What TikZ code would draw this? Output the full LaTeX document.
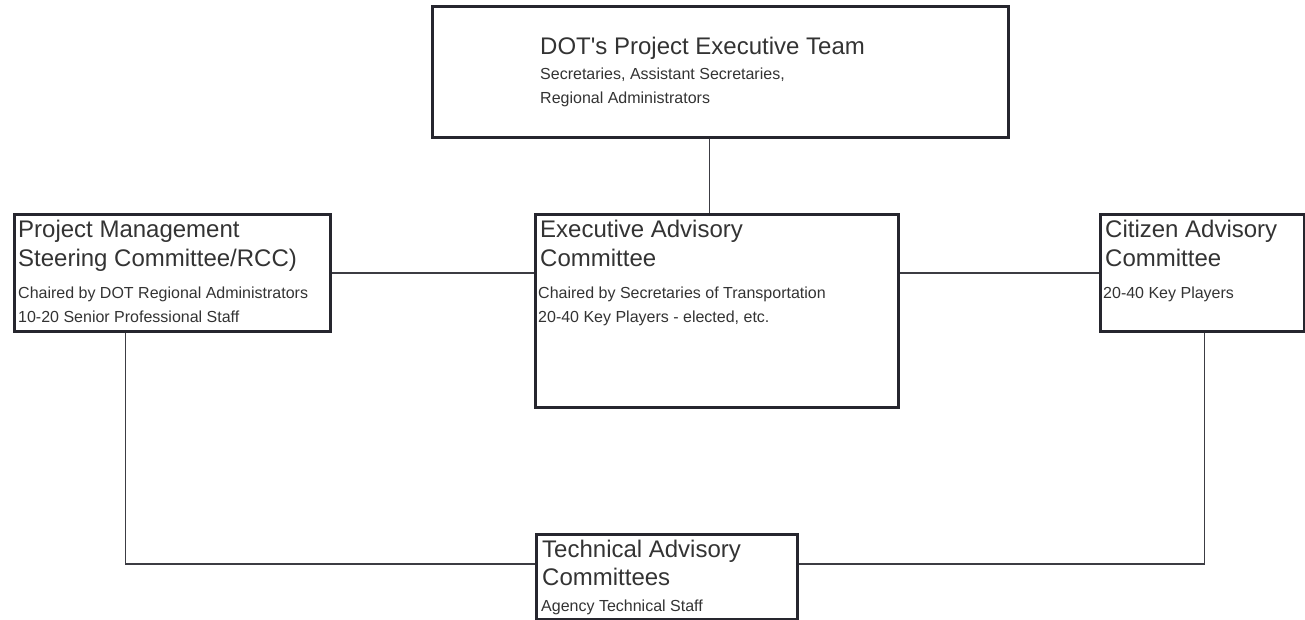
\documentclass[tikz,border=0pt]{standalone}
\usepackage{fontspec}
\setmainfont{Liberation Sans}
\definecolor{ink}{HTML}{26262E}
\definecolor{txt}{HTML}{333333}
\begin{document}
\begin{tikzpicture}[x=1pt,y=-1pt,
  box/.style={draw=ink, line width=3pt, anchor=north west, inner sep=0pt},
  link/.style={draw=ink!90, line width=1.6pt},
  big/.style={anchor=base west, inner sep=0pt, text=txt, font=\fontsize{24}{24}\selectfont},
  small/.style={anchor=base west, inner sep=0pt, text=txt, font=\fontsize{16}{16}\selectfont}]
\useasboundingbox (0,0) rectangle (1305,620);
% boxes
\node[box, minimum width=576pt, minimum height=131pt] (top) at (431,5) {};
\node[box, minimum width=316pt, minimum height=117pt] (pm) at (13,213) {};
\node[box, minimum width=363pt, minimum height=193pt] (eac) at (534,213) {};
\node[box, minimum width=204pt, minimum height=117pt] (cac) at (1099,213) {};
\node[box, minimum width=261pt, minimum height=85pt] (tac) at (535,533) {};
% connectors
\draw[link] ([xshift=-11pt]top.south) -- ([xshift=-11pt]top.south |- eac.north);
\draw[link] (pm.east) -- (pm.east -| eac.west);
\draw[link] (eac.east |- cac.west) -- (cac.west);
\draw[link] ([xshift=-47pt]pm.south) |- ([yshift=13pt]tac.west);
\draw[link] ([xshift=2pt]cac.south) |- ([yshift=13pt]tac.east);
% texts
\node[big] (t1) at (540,55) {DOT\textquotesingle s Project Executive Team};
\node[small] (t2) at (540,80) {Secretaries, Assistant Secretaries,};
\node[small] (t3) at (540,104) {Regional Administrators};
\node[big] (p1) at (18,237) {Project Management};
\node[big] (p2) at (18,266) {Steering Committee/RCC)};
\node[small] (p3) at (18,298) {Chaired by DOT Regional Administrators};
\node[small] (p4) at (18,322) {10-20 Senior Professional Staff};
\node[big] (e1) at (540,237) {Executive Advisory};
\node[big] (e2) at (540,266) {Committee};
\node[small] (e3) at (538,298) {Chaired by Secretaries of Transportation};
\node[small] (e4) at (538,322) {20-40 Key Players - elected, etc.};
\node[big] (c1) at (1105,237) {Citizen Advisory};
\node[big] (c2) at (1105,266) {Committee};
\node[small] (c3) at (1103,298) {20-40 Key Players};
\node[big] (a1) at (542,557) {Technical Advisory};
\node[big] (a2) at (542,585) {Committees};
\node[small] (a3) at (541,611) {Agency Technical Staff};
\end{tikzpicture}
\end{document}
